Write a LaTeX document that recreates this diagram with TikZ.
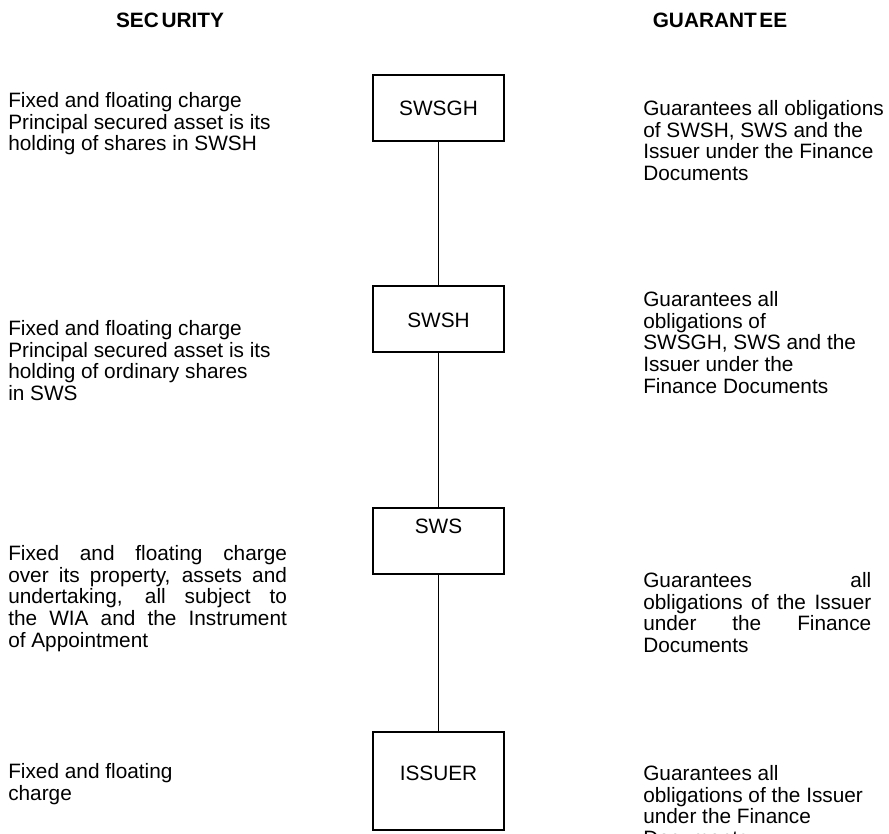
\documentclass[tikz,border=0pt]{standalone}
\usepackage{fontspec}
\setmainfont{Liberation Sans}
\begin{document}
\begin{tikzpicture}[x=0.75pt,y=-0.75pt,
  txt/.style={font=\fontsize{15.6}{16.3}\selectfont, inner sep=0pt, anchor=north west, align=left},
  jtxtl/.style={txt, text width=209pt, align=justify},
  jtxtr/.style={txt, text width=171pt, align=justify},
  hdr/.style={font=\fontsize{15.6}{16.3}\selectfont\bfseries, inner sep=0pt},
  entity/.style={draw, line width=1pt, minimum width=98.25pt, minimum height=49.5pt, inner sep=0pt},
  tallentity/.style={entity, minimum height=73.5pt},
  boxlabel/.style={font=\fontsize{15.6}{16.3}\selectfont, inner sep=0pt},
  link/.style={line width=0.8pt}]
\useasboundingbox (0,0) rectangle (889,834);
% headers
\node[hdr] (sec) at (170,20) {SEC\kern2pt URITY};
\node[hdr] (gua) at (720,20) {GUARANT\kern2pt EE};
% entities
\node[entity] (swsgh) at (438.5,108) {};
\node[entity] (swsh) at (438.5,319) {};
\node[entity] (sws) at (438.5,541) {};
\node[tallentity] (issuer) at (438.5,781) {};
\node[boxlabel] (lswsgh) at (438.5,108) {SWSGH};
\node[boxlabel] (lswsh) at (438.5,320) {SWSH};
\node[boxlabel] (lsws) at (438.5,526) {SWS};
\node[boxlabel] (lissuer) at (438.5,773) {ISSUER};
\draw[link] (swsgh) -- (swsh);
\draw[link] (swsh) -- (sws);
\draw[link] (sws) -- (issuer);
% security texts
\node[txt] (s1) at (8,92) {Fixed and floating charge\\Principal secured asset is its\\holding of shares in SWSH};
\node[txt] (s2) at (8,320) {Fixed and floating charge\\Principal secured asset is its\\holding of ordinary shares\\in SWS};
\node[jtxtl] (s3) at (8,545) {Fixed and floating charge\linebreak over its property, assets and\linebreak undertaking, all subject to\linebreak the WIA and the Instrument\linebreak of Appointment};
\node[txt] (s4) at (8,763) {Fixed and floating\\charge};
% guarantee texts
\node[txt] (g1) at (643,100) {Guarantees all obligations\\of SWSH, SWS and the\\Issuer under the Finance\\Documents};
\node[txt] (g2) at (643,291) {Guarantees all\\obligations of\\SWSGH, SWS and the\\Issuer under the\\Finance Documents};
\node[jtxtr] (g3) at (643,572) {Guarantees all\linebreak obligations of the Issuer\linebreak under the Finance\linebreak Documents};
\node[txt] (g4) at (643,765) {Guarantees all\\obligations of the Issuer\\under the Finance\\Documents};
\end{tikzpicture}
\end{document}
